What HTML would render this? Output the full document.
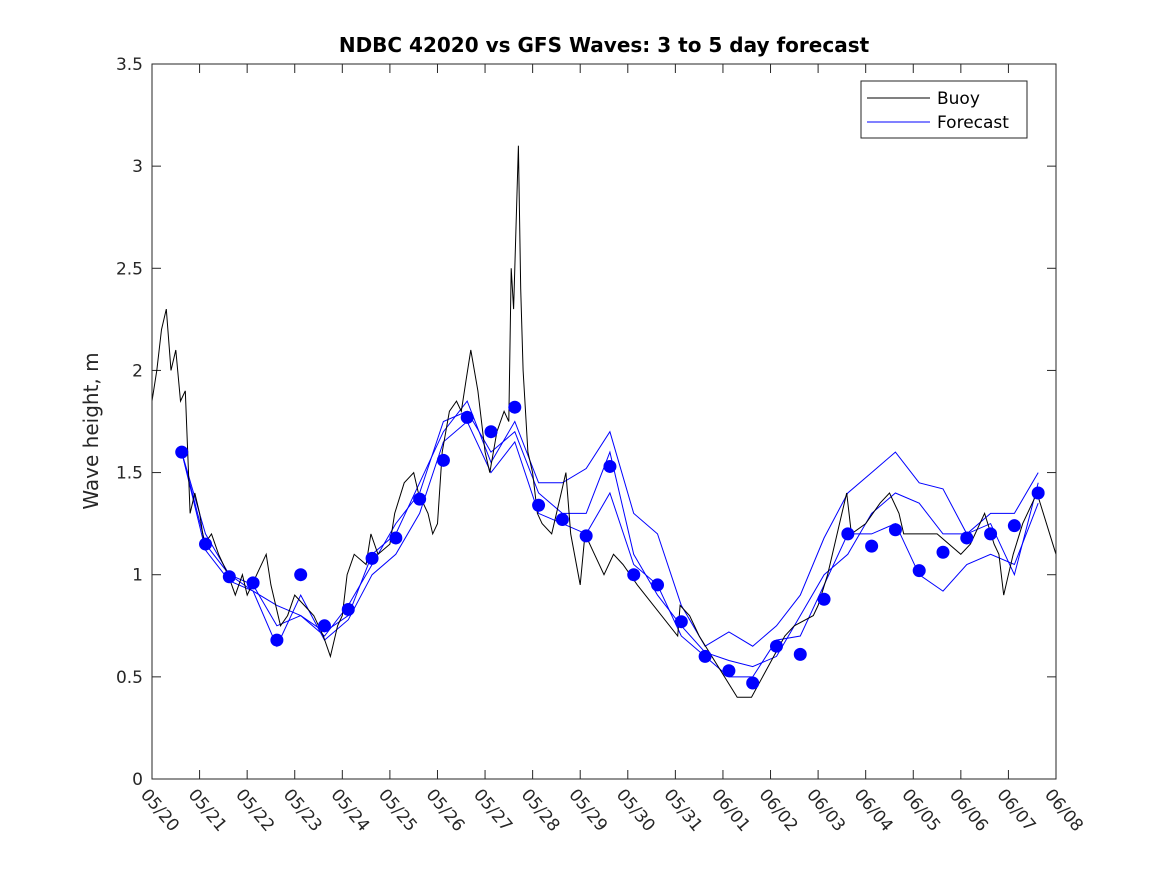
<!DOCTYPE html>
<html><head><meta charset="utf-8"><style>
body{margin:0;background:#fff;}
svg{display:block;font-family:"DejaVu Sans","Liberation Sans",sans-serif;}
</style></head><body>
<svg id="chart" width="1167" height="875" xmlns="http://www.w3.org/2000/svg">
<rect x="0" y="0" width="1167" height="875" fill="#fff"/>
<text x="604" y="52" text-anchor="middle" font-size="20" font-weight="bold">NDBC 42020 vs GFS Waves: 3 to 5 day forecast</text>
<text transform="translate(98,431) rotate(-90)" text-anchor="middle" font-size="20" fill="#262626">Wave height, m</text>
<g id="grid"></g>
<g id="series"></g>
<rect x="152" y="64" width="904" height="715" fill="none" stroke="#262626" stroke-width="1"/>
<g>
<rect x="861" y="81" width="166" height="57" fill="#fff" stroke="#262626"/>
<line x1="867" y1="98" x2="930" y2="98" stroke="#000"/>
<text x="937" y="104" font-size="17">Buoy</text>
<line x1="867" y1="122" x2="930" y2="122" stroke="#0000ff"/>
<text x="937" y="128" font-size="17">Forecast</text>
</g>
</svg>
<script>
const xTickLabels=["05/20","05/21","05/22","05/23","05/24","05/25","05/26","05/27","05/28","05/29","05/30","05/31","06/01","06/02","06/03","06/04","06/05","06/06","06/07","06/08"];
const yTicks=[0,0.5,1,1.5,2,2.5,3,3.5];
const yTickLabels=["0","0.5","1","1.5","2","2.5","3","3.5"];
const buoyDays=[0,0.1,0.2,0.3,0.4,0.5,0.6,0.7,0.75,0.8,0.9,1.0,1.1,1.25,1.4,1.6,1.75,1.9,2.0,2.2,2.4,2.5,2.7,2.85,3.0,3.2,3.4,3.6,3.75,3.9,4.0,4.1,4.25,4.5,4.6,4.75,5.0,5.1,5.3,5.5,5.6,5.8,5.9,6.0,6.1,6.25,6.4,6.5,6.6,6.7,6.85,7.0,7.1,7.25,7.4,7.5,7.55,7.6,7.65,7.7,7.75,7.8,7.9,8.0,8.1,8.2,8.4,8.6,8.7,8.8,9.0,9.1,9.3,9.5,9.7,9.9,10.2,11.05,11.1,11.3,11.5,12.3,12.6,13.3,13.5,13.9,14.0,14.2,14.5,14.6,14.7,15.0,15.3,15.5,15.7,15.8,16.5,17.0,17.2,17.5,17.7,17.8,17.9,18.0,18.1,18.3,18.6,19.0];
const buoyVals=[1.85,2.0,2.2,2.3,2.0,2.1,1.85,1.9,1.6,1.3,1.4,1.3,1.15,1.2,1.1,1.0,0.9,1.0,0.9,1.0,1.1,0.95,0.75,0.8,0.9,0.85,0.8,0.7,0.6,0.75,0.8,1.0,1.1,1.05,1.2,1.1,1.15,1.3,1.45,1.5,1.4,1.3,1.2,1.25,1.6,1.8,1.85,1.8,1.95,2.1,1.9,1.6,1.5,1.7,1.8,1.75,2.5,2.3,2.7,3.1,2.4,2.0,1.6,1.5,1.3,1.25,1.2,1.4,1.5,1.2,0.95,1.2,1.1,1.0,1.1,1.05,0.95,0.7,0.85,0.8,0.7,0.4,0.4,0.7,0.75,0.8,0.85,1.0,1.3,1.4,1.2,1.25,1.35,1.4,1.3,1.2,1.2,1.1,1.15,1.3,1.15,1.1,0.9,1.0,1.1,1.25,1.4,1.1];
const forecastStart=0.625;
const forecastStep=0.5;
const dotVals=[1.6,1.15,0.99,0.96,0.68,1.0,0.75,0.83,1.08,1.18,1.37,1.56,1.77,1.70,1.82,1.34,1.27,1.19,1.53,1.0,0.95,0.77,0.60,0.53,0.47,0.65,0.61,0.88,1.20,1.14,1.22,1.02,1.11,1.18,1.20,1.24,1.40];
const fc1=[1.6,1.2,1.0,0.92,0.85,0.8,0.72,0.8,1.1,1.2,1.45,1.7,1.85,1.55,1.75,1.45,1.45,1.52,1.7,1.3,1.2,0.85,0.65,0.72,0.65,0.75,0.9,1.18,1.4,1.5,1.6,1.45,1.42,1.2,1.3,1.3,1.5];
const fc2=[1.6,1.15,1.0,0.95,0.75,0.8,0.7,0.85,1.05,1.25,1.4,1.75,1.8,1.6,1.7,1.4,1.3,1.3,1.6,1.1,0.9,0.75,0.62,0.58,0.55,0.6,0.8,1.0,1.1,1.3,1.4,1.35,1.2,1.2,1.25,1.0,1.45];
const fc3=[1.6,1.12,0.97,0.92,0.65,0.9,0.68,0.78,1.0,1.1,1.3,1.65,1.75,1.5,1.65,1.3,1.25,1.2,1.4,1.05,0.95,0.7,0.6,0.5,0.5,0.68,0.7,0.95,1.2,1.2,1.25,1.0,0.92,1.05,1.1,1.05,1.35];

const NS="http://www.w3.org/2000/svg";
const X0=152,X1=1056,Y0=779,Y1=64;
function xs(d){return X0+(X1-X0)*d/19;}
function ys(v){return Y0-(Y0-Y1)*v/3.5;}
function mk(tag,attrs,parent){const e=document.createElementNS(NS,tag);for(const k in attrs)e.setAttribute(k,attrs[k]);parent.appendChild(e);return e;}
const grid=document.getElementById('grid');
const ser=document.getElementById('series');
yTicks.forEach((v,i)=>{
  const y=ys(v);
  let t=mk('line',{x1:X0,x2:X0+9,y1:y,y2:y,stroke:'#262626'},grid);
  
  
  t=mk('line',{x1:X1-9,x2:X1,y1:y,y2:y,stroke:'#262626'},grid);
  
  
  const lb=mk('text',{x:X0-9,y:y+6,'text-anchor':'end','font-size':17,fill:'#262626'},grid);
  lb.textContent=yTickLabels[i];
  
  
});
xTickLabels.forEach((s,i)=>{
  const x=xs(i);
  let t=mk('line',{x1:x,x2:x,y1:Y0,y2:Y0-9,stroke:'#262626'},grid);
  
  
  t=mk('line',{x1:x,x2:x,y1:Y1,y2:Y1+9,stroke:'#262626'},grid);
  
  
  const lb=mk('text',{transform:`translate(${x-12},${Y0+16}) rotate(50)`,'font-size':17,fill:'#262626'},grid);
  lb.textContent=s;
  
  
});
function linePath(days,vals){return days.map((d,i)=>(i?'L':'M')+xs(d).toFixed(1)+','+ys(vals[i]).toFixed(1)).join(' ');}
[fc1,fc2,fc3].forEach((arr,k)=>{
  const days=arr.map((v,i)=>forecastStart+i*forecastStep);
  const p=mk('path',{d:linePath(days,arr),fill:'none',stroke:'#0000ff','stroke-width':1},ser);
  
  
});
const bp=mk('path',{d:linePath(buoyDays,buoyVals),fill:'none',stroke:'#000','stroke-width':1},ser);


dotVals.forEach((v,i)=>{
  const c=mk('circle',{cx:xs(forecastStart+i*forecastStep),cy:ys(v),r:6.5,fill:'#0000ff'},ser);
  
  
});
</script>
</body></html>
